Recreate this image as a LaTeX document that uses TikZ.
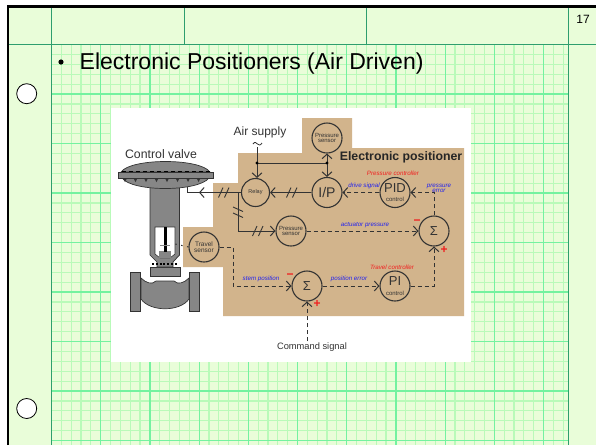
\documentclass[tikz,border=0pt]{standalone}
\usepackage{fontspec}
\setmainfont{Liberation Sans}
\usetikzlibrary{arrows.meta,calc}
\definecolor{paper}{HTML}{E9FDD9}
\definecolor{minorg}{HTML}{B9FAB9}
\definecolor{majorg}{HTML}{74F2A0}
\definecolor{headg}{HTML}{2E9E6E}
\definecolor{tanbg}{HTML}{D2B48C}
\definecolor{ink}{HTML}{333333}
\definecolor{vgray}{HTML}{868686}
\definecolor{lblue}{HTML}{2222EE}
\definecolor{lred}{HTML}{F02020}
\newcommand{\fs}[1]{\fontsize{#1}{#1}\selectfont}
\newcommand{\hashmark}[3]{\begin{scope}[shift={(#1,#2)},rotate=#3]
\draw[ink,line width=.9pt] (-5.5,5) -- (-1,-5) (0.5,5) -- (5,-5);
\end{scope}}
\tikzset{
  unit/.style={circle,draw=ink,line width=1.1pt,minimum size=30pt,inner sep=0pt,align=center,text=ink},
  wire/.style={ink,line width=1pt},
  dwire/.style={ink,line width=1pt,dash pattern=on 4pt off 3pt},
  barb/.style={-{Straight Barb[length=4.5pt,width=10pt,line width=1pt]}},
  sigtext/.style={text=lblue,font=\fs{6.2}\itshape,inner sep=0pt,align=center},
  ctltext/.style={text=lred,font=\fs{6.2}\itshape,inner sep=0pt},
  captext/.style={text=ink,inner sep=0pt},
  signtext/.style={text=lred,font=\fs{12}\bfseries,inner sep=0pt},
  bodypart/.style={fill=vgray,draw=ink,line width=.7pt},
  holemark/.style={circle,draw=black,fill=white,line width=.8pt,minimum size=20pt,inner sep=0pt}
}
\begin{document}
\begin{tikzpicture}[x=1pt,y=-1pt]
\useasboundingbox (0,0) rectangle (596,445);
\fill[white] (0,0) rectangle (596,445);
\fill[paper] (8,6) rectangle (596,445);
% fine grid
\foreach \k in {1,...,52}{\draw[minorg,line width=1.2pt] ({51.5+9.84*\k},44) -- ({51.5+9.84*\k},445);}
\foreach \k in {1,...,40}{\draw[minorg,line width=1.2pt] (51.5,{44.5+9.9*\k}) -- (568,{44.5+9.9*\k});}
\foreach \k in {1,...,10}{\draw[majorg,line width=1.2pt] ({51.5+49.2*\k},44) -- ({51.5+49.2*\k},445);}
\foreach \k in {1,...,8}{\draw[majorg,line width=1.2pt] (51.5,{44.5+49.5*\k}) -- (568,{44.5+49.5*\k});}
% header rules
\draw[headg,line width=1pt] (8,44.5) -- (596,44.5);
\draw[headg,line width=1pt] (51.5,6) -- (51.5,445);
\draw[headg,line width=1pt] (568.5,6) -- (568.5,445);
\draw[headg,line width=1pt] (184.5,6) -- (184.5,44.5);
\draw[headg,line width=1pt] (366.5,6) -- (366.5,44.5);
% black border
\draw[black,line width=2.2pt] (8,445) -- (8,6.5) -- (596,6.5);
\node[holemark] (holeA) at (26.7,93.7) {};
\node[holemark] (holeB) at (26.7,408.5) {};
\node[inner sep=0pt,anchor=base] (pageno) at (583,23) {\fs{12}17};
\node[inner sep=0pt,anchor=base west] (title) at (79.5,69.5) {\fs{23}Electronic Positioners (Air Driven)};
\fill[black] (61,62) circle (2.6);
% picture panel
\fill[white] (110.5,108) rectangle (471,361.5);
\fill[tanbg] (238,153) -- (302,153) -- (302,118) -- (352,118) -- (352,148) -- (464,148) -- (464,316)
  -- (223,316) -- (223,267) -- (183,267) -- (183,227) -- (213,227) -- (213,183) -- (238,183) -- cycle;
% valve body
\draw[bodypart] (141,278) .. controls (146,283) and (152,285) .. (156,281) -- (174,281) .. controls (178,285) and (184,283) .. (189,278)
  -- (189,299) .. controls (180,312) and (150,312) .. (141,299) -- cycle;
\draw[bodypart] (130,272) rectangle (140.5,311);
\draw[bodypart] (189,272) rectangle (199,311);
\draw[bodypart] (150,267) rectangle (180,276);
% yoke
\draw[bodypart] (150,186) -- (179.5,186) -- (179.5,255) -- (173,262) -- (173,267) -- (157,267) -- (157,262) -- (150,255) -- cycle;
\fill[white] (155,227) -- (175,227) -- (175,254) -- (170,258) -- (160,258) -- (155,254) -- cycle;
\draw[ink,line width=.6pt] (155,254) -- (155,227) -- (175,227) -- (175,254) -- (170,258) -- (160,258) -- (155,254);
\fill[vgray] (159,251) rectangle (171,258);
\draw[black,line width=3pt] (165,227) -- (165,252);
\draw[vgray,line width=.8pt] (160,245) -- (170,245);
\draw[black,line width=1.4pt,dash pattern=on 2pt off 1.8pt] (152,264) -- (178,264);
% actuator
\draw[bodypart] (122,178) .. controls (132,192) and (198,192) .. (209,178) -- cycle;
\draw[bodypart] (121,172) .. controls (131,158) and (200,158) .. (210,172) -- cycle;
\draw[bodypart] (118,172) rectangle (213,178);
\draw[black,line width=1pt,dash pattern=on 4pt off 3pt] (122,171.5) -- (210,171.5);
\foreach \x in {125,135.5,...,207}{\fill[ink] (\x-2,178) -- (\x+2,178) -- (\x,182) -- cycle;}
% instruments
\node[unit,font=\fs{5.5},minimum size=28pt] (relay) at (255.5,192.5) {Relay};
\node[unit,font=\fs{14}] (ip) at (327,192.5) {I/P};
\node[unit,font=\fs{6}] (psTop) at (327,138) {Pressure\\[-.5pt]sensor};
\node[unit] (pid) at (395,192.5) {\fs{13}PID\\[-2.5pt]\fs{6}control};
\node[unit,font=\fs{13}] (sumA) at (434,231) {Σ};
\node[unit,font=\fs{6}] (psLow) at (291,231) {Pressure\\[-.5pt]sensor};
\node[unit,font=\fs{6.5}] (travel) at (204,247) {Travel\\[0pt]sensor};
\node[unit,font=\fs{13}] (sumB) at (307,286) {Σ};
\node[unit] (pi) at (395,286) {\fs{13}PI\\[-2.5pt]\fs{6}control};
% free ends
\coordinate (supply) at (257,147);
\coordinate (tapA) at (257,163);
\coordinate (tapB) at (327,163);
\coordinate (tapC) at (238,192.5);
\coordinate (port) at (187,187);
\coordinate (stem) at (171,243);
\coordinate (cmd) at (307,341);
% pneumatic connectors
\draw[wire] (supply) -- (tapA);
\draw[wire,barb] (tapA) -- (relay.north -| tapA);
\draw[wire] (tapA) -- (tapB);
\draw[wire,barb] (tapB) -- (psTop.south);
\draw[wire,barb] (tapB) -- (ip.north);
\fill[black] (tapA) circle (1.7) (tapB) circle (1.7);
\draw[wire,barb] (ip) -- (relay);
\draw[wire] (relay.west) -- (tapC);
\draw[wire,barb] (tapC) -- (199,192.5);
\draw[wire] (199,192.5) -- (187,192.5) -- (port);
\draw[wire,barb] (tapC) |- (psLow.west);
\hashmark{224}{192.5}{0}
\hashmark{292}{192.5}{0}
\hashmark{238}{212}{90}
\hashmark{258}{231}{0}
\draw[ink,line width=.8pt] (253,144) .. controls (255,141) and (256,143) .. (257.5,144) .. controls (259,145) and (260,146) .. (262,143);
% signal connectors
\draw[dwire,barb] (pid) -- (ip);
\draw[dwire,barb] (sumA.north) |- (pid.east);
\draw[dwire,barb] (psLow) -- (sumA);
\draw[dwire,barb] (sumB) -- (pi);
\draw[dwire,barb] (pi.east) -| (sumA.south);
\draw[dwire,barb] (travel.east) -- (233,247) |- (sumB.west);
\draw[dwire,barb] (cmd) -- (sumB.south);
\draw[ink,line width=1pt,dash pattern=on 1.5pt off 4.5pt] (travel.west) -- (stem);
% texts
\node[captext,font=\fs{12}] (airL) at (260,132.5) {Air supply};
\node[captext,font=\fs{12.3}] (cvL) at (161,154) {Control valve};
\node[captext,font=\fs{12.3}\bfseries,text=black!85] (epL) at (401,157) {Electronic positioner};
\node[captext,font=\fs{9.3}] (cmdL) at (312,347) {Command signal};
\node[ctltext] (pcL) at (393,173.5) {Pressure controller};
\node[ctltext] (tcL) at (392,267) {Travel controller};
\node[sigtext] (dsL) at (364,185.5) {drive signal};
\node[sigtext] (peL) at (439,188) {pressure\\[-1pt]error};
\node[sigtext] (apL) at (365,225) {actuator pressure};
\node[sigtext] (spL) at (261,278.5) {stem position};
\node[sigtext] (poL) at (349,279) {position error};
\node[signtext] (mA) at (417,222) {−};
\node[signtext] (pA) at (444,249.5) {+};
\node[signtext] (mB) at (290,276) {−};
\node[signtext] (pB) at (317,304) {+};
\end{tikzpicture}
\end{document}
